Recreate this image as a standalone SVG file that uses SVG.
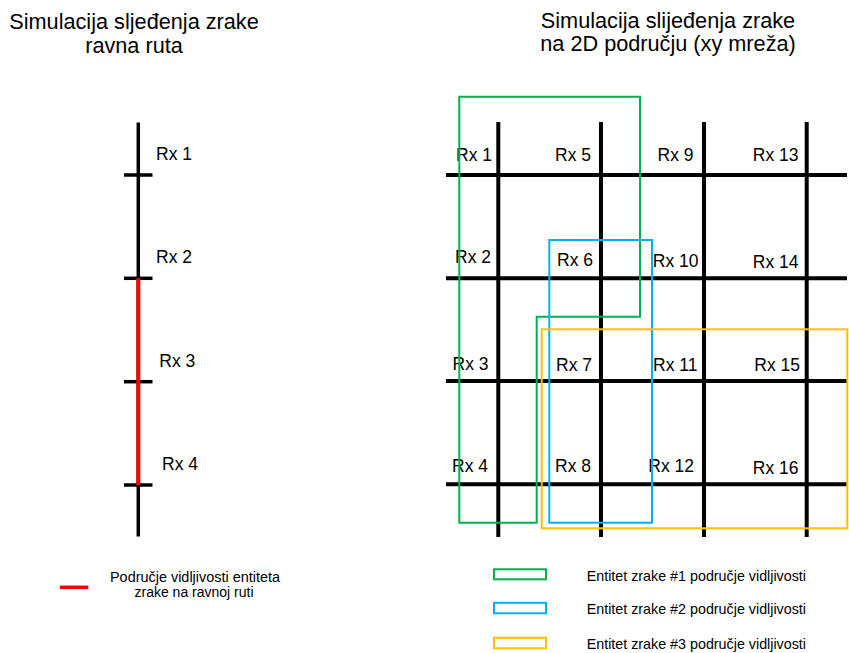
<svg xmlns="http://www.w3.org/2000/svg" width="849" height="653" viewBox="0 0 849 653">
<style>
text{font-family:"Liberation Sans",Arial,sans-serif;fill:#000}
.title{font-size:21.7px;text-anchor:middle}
.rx{font-size:17.5px}
.rxr{font-size:17.5px;text-anchor:end}
.leg{font-size:14.3px}
.legc{font-size:14px;text-anchor:middle}
.grid{stroke:#000;stroke-width:4;fill:none}
.lline{stroke:#000;stroke-width:3.5;fill:none}
.g{stroke:#00B050;stroke-width:2;fill:none}
.b{stroke:#00B0F0;stroke-width:2;fill:none}
.y{stroke:#FFC000;stroke-width:2;fill:none}
</style>
<rect width="849" height="653" fill="#fff"/>
<g id="titles">
<text class="title" x="134" y="29">Simulacija sljeđenja zrake</text>
<text class="title" x="134" y="53">ravna ruta</text>
<text class="title" x="668" y="28">Simulacija slijeđenja zrake</text>
<text class="title" x="668" y="51">na 2D području (xy mreža)</text>
</g>
<g id="connectors">
<g id="straight-route">
<line class="lline" x1="138.3" y1="122.5" x2="138.3" y2="536.5"/>
<line class="lline" x1="124" y1="175" x2="152.5" y2="175"/>
<line class="lline" x1="124" y1="278.3" x2="152.5" y2="278.3"/>
<line class="lline" x1="124" y1="381.7" x2="152.5" y2="381.7"/>
<line class="lline" x1="124" y1="485" x2="152.5" y2="485"/>
<line x1="138.3" y1="278.3" x2="138.3" y2="485" stroke="#FF0000" stroke-width="4"/>
</g>
<g id="xy-grid">
<line class="grid" x1="446" y1="175" x2="847" y2="175"/>
<line class="grid" x1="446" y1="278.3" x2="847" y2="278.3"/>
<line class="grid" x1="446" y1="381" x2="847" y2="381"/>
<line class="grid" x1="446" y1="484.3" x2="847" y2="484.3"/>
<line class="grid" x1="498.3" y1="122" x2="498.3" y2="537"/>
<line class="grid" x1="601" y1="122" x2="601" y2="537"/>
<line class="grid" x1="704" y1="122" x2="704" y2="537"/>
<line class="grid" x1="806.7" y1="122" x2="806.7" y2="537"/>
</g>
</g>
<g id="left-receivers">
<g id="l-rx1"><text class="rx" x="156" y="160">Rx 1</text></g>
<g id="l-rx2"><text class="rx" x="156" y="263.3">Rx 2</text></g>
<g id="l-rx3"><text class="rx" x="159.3" y="366.7">Rx 3</text></g>
<g id="l-rx4"><text class="rx" x="162" y="470">Rx 4</text></g>
</g>
<g id="grid-receivers">
<g id="rx1"><text class="rxr" x="492" y="161">Rx 1</text></g>
<g id="rx5"><text class="rxr" x="591" y="161">Rx 5</text></g>
<g id="rx9"><text class="rxr" x="693.5" y="160.7">Rx 9</text></g>
<g id="rx13"><text class="rxr" x="798.5" y="160.7">Rx 13</text></g>
<g id="rx2"><text class="rxr" x="491" y="262.7">Rx 2</text></g>
<g id="rx6"><text class="rxr" x="593" y="265.7">Rx 6</text></g>
<g id="rx10"><text class="rxr" x="698.5" y="266.7">Rx 10</text></g>
<g id="rx14"><text class="rxr" x="798.5" y="268.3">Rx 14</text></g>
<g id="rx3"><text class="rxr" x="488.5" y="370">Rx 3</text></g>
<g id="rx7"><text class="rxr" x="592" y="371">Rx 7</text></g>
<g id="rx11"><text class="rxr" x="697.5" y="371">Rx 11</text></g>
<g id="rx15"><text class="rxr" x="800" y="370.7">Rx 15</text></g>
<g id="rx4"><text class="rxr" x="488" y="471.7">Rx 4</text></g>
<g id="rx8"><text class="rxr" x="591" y="471.7">Rx 8</text></g>
<g id="rx12"><text class="rxr" x="694" y="472.3">Rx 12</text></g>
<g id="rx16"><text class="rxr" x="798.5" y="474.3">Rx 16</text></g>
</g>
<g id="entity-areas">
<polygon id="area1" class="g" points="459.3,96.7 640,96.7 640,316.7 536.7,316.7 536.7,522.7 459.3,522.7"/>
<rect id="area2" class="b" x="549.3" y="240" width="102.7" height="282.7"/>
<rect id="area3" class="y" x="541.7" y="329.3" width="305.6" height="199"/>
</g>
<g id="legend">
<g id="leg-red">
<line x1="60" y1="587.3" x2="88.3" y2="587.3" stroke="#FF0000" stroke-width="3.5"/>
<text class="legc" x="195" y="581.7" textLength="170" lengthAdjust="spacingAndGlyphs">Područje vidljivosti entiteta</text>
<text class="legc" x="194" y="596.7">zrake na ravnoj ruti</text>
</g>
<g id="leg-green">
<rect class="g" x="494" y="569.3" width="52" height="10"/>
<text class="leg" x="586.7" y="580.7">Entitet zrake #1 područje vidljivosti</text>
</g>
<g id="leg-blue">
<rect class="b" x="494" y="602.8" width="52" height="10.5"/>
<text class="leg" x="586.7" y="614">Entitet zrake #2 područje vidljivosti</text>
</g>
<g id="leg-yellow">
<rect class="y" x="494" y="637.8" width="52" height="10.5"/>
<text class="leg" x="586.7" y="649.3">Entitet zrake #3 područje vidljivosti</text>
</g>
</g>
</svg>
